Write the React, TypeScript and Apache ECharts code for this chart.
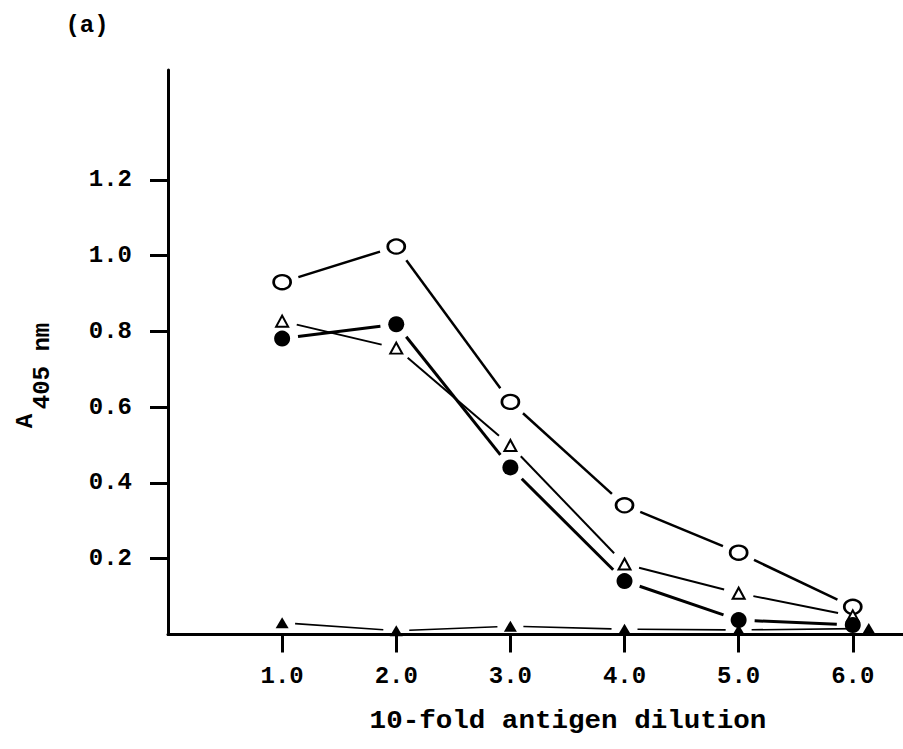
import React, { useEffect, useRef } from "react";
import * as echarts from "echarts";

const dilutions = [1.0, 2.0, 3.0, 4.0, 5.0, 6.0];
const openCircle = [0.93, 1.024, 0.614, 0.341, 0.216, 0.073];
const openTriangle = [0.827, 0.756, 0.499, 0.186, 0.109, 0.049];
const filledCircle = [0.781, 0.819, 0.441, 0.141, 0.038, 0.025];
const filledTriangleX = [1.0, 2.0, 3.0, 4.0, 5.0, 6.14];
const filledTriangle = [0.031, 0.01, 0.022, 0.014, 0.012, 0.016];
const xTickValues = [1, 2, 3, 4, 5, 6];
const yTickValues = [0.2, 0.4, 0.6, 0.8, 1.0, 1.2];

const FONT = "Liberation Mono";

function pairs(xs: number[], ys: number[]) {
  return xs.map((x, i) => [x, ys[i]]);
}

function segments(xs: number[], ys: number[]) {
  const out: number[][] = [];
  for (let i = 0; i < xs.length - 1; i++) out.push([xs[i], ys[i], xs[i + 1], ys[i + 1]]);
  return out;
}

export default function App() {
  const ref = useRef<HTMLDivElement>(null);
  useEffect(() => {
    if (!ref.current) return;
    const chart = echarts.init(ref.current, undefined, { renderer: "svg" });
    const sets = [
      { xs: dilutions, ys: openCircle, lw: 2.5, symbol: "circle", size: [17, 14], fill: "#fff", border: 2.5, gap: 17 },
      { xs: dilutions, ys: openTriangle, lw: 2, symbol: "triangle", size: [12, 11], fill: "#fff", border: 2, gap: 15 },
      { xs: dilutions, ys: filledCircle, lw: 3, symbol: "circle", size: [16, 16], fill: "#000", border: 0, gap: 16 },
      { xs: filledTriangleX, ys: filledTriangle, lw: 1.6, symbol: "triangle", size: [13, 11], fill: "#000", border: 0, gap: 13 },
    ];
    const series: any[] = [];
    sets.forEach((s) => {
      series.push({
        type: "custom",
        data: segments(s.xs, s.ys),
        encode: { x: [0, 2], y: [1, 3] },
        silent: true,
        z: 2,
        renderItem: (params: any, api: any) => {
          const p1 = api.coord([api.value(0), api.value(1)]);
          const p2 = api.coord([api.value(2), api.value(3)]);
          const dx = p2[0] - p1[0];
          const dy = p2[1] - p1[1];
          const len = Math.sqrt(dx * dx + dy * dy) || 1;
          const ux = dx / len;
          const uy = dy / len;
          const g = Math.min(s.gap, len / 2 - 1);
          return {
            type: "line",
            shape: {
              x1: p1[0] + ux * g,
              y1: p1[1] + uy * g,
              x2: p2[0] - ux * g,
              y2: p2[1] - uy * g,
            },
            style: { stroke: "#000", lineWidth: s.lw, lineCap: "butt" },
          };
        },
      });
    });
    sets.forEach((s) => {
      series.push({
        type: "scatter",
        data: pairs(s.xs, s.ys),
        symbol: s.symbol,
        symbolSize: s.size,
        silent: true,
        itemStyle: { color: s.fill, borderColor: "#000", borderWidth: s.border, opacity: 1 },
        z: 8,
      });
    });
    chart.setOption({
      animation: false,
      backgroundColor: "#fff",
      textStyle: { fontFamily: FONT, color: "#000" },
      grid: { left: 168, right: 0, top: 70, bottom: 114.5 },
      xAxis: {
        type: "value",
        min: 0,
        max: 6.44,
        splitLine: { show: false },
        axisLine: { show: true, onZero: false, lineStyle: { color: "#000", width: 3 } },
        axisTick: { show: true, customValues: xTickValues, length: 18, lineStyle: { color: "#000", width: 3 } },
        axisLabel: {
          customValues: xTickValues,
          formatter: (v: number) => v.toFixed(1),
          margin: 30,
          fontSize: 24,
          fontWeight: "bold",
          fontFamily: FONT,
          color: "#000",
        },
      },
      yAxis: {
        type: "value",
        min: 0,
        max: 1.49,
        splitLine: { show: false },
        axisLine: { show: true, lineStyle: { color: "#000", width: 3 } },
        axisTick: { show: true, customValues: yTickValues, length: 18, lineStyle: { color: "#000", width: 3 } },
        axisLabel: {
          customValues: yTickValues,
          formatter: (v: number) => v.toFixed(1),
          margin: 36,
          fontSize: 24,
          fontWeight: "bold",
          fontFamily: FONT,
          color: "#000",
        },
      },
      graphic: [
        {
          type: "text",
          x: 87,
          y: 25,
          style: { text: "(a)", font: `bold 24px "${FONT}"`, fill: "#000", align: "center", verticalAlign: "middle" },
        },
        {
          type: "text",
          x: 568,
          y: 721,
          scaleX: 1.06,
          style: {
            text: "10-fold antigen dilution",
            font: `bold 26px "${FONT}"`,
            fill: "#000",
            align: "center",
            verticalAlign: "middle",
          },
        },
        {
          type: "text",
          x: 25,
          y: 421,
          rotation: Math.PI / 2,
          style: { text: "A", font: `bold 24px "${FONT}"`, fill: "#000", align: "center", verticalAlign: "middle" },
        },
        {
          type: "text",
          x: 42,
          y: 366,
          rotation: Math.PI / 2,
          style: { text: "405 nm", font: `bold 24px "${FONT}"`, fill: "#000", align: "center", verticalAlign: "middle" },
        },
      ],
      series,
    });
    return () => chart.dispose();
  }, []);
  return (
    <div
      ref={ref}
      style={{ position: "absolute", left: 0, top: 0, width: 903, height: 749, background: "#fff" }}
    />
  );
}
